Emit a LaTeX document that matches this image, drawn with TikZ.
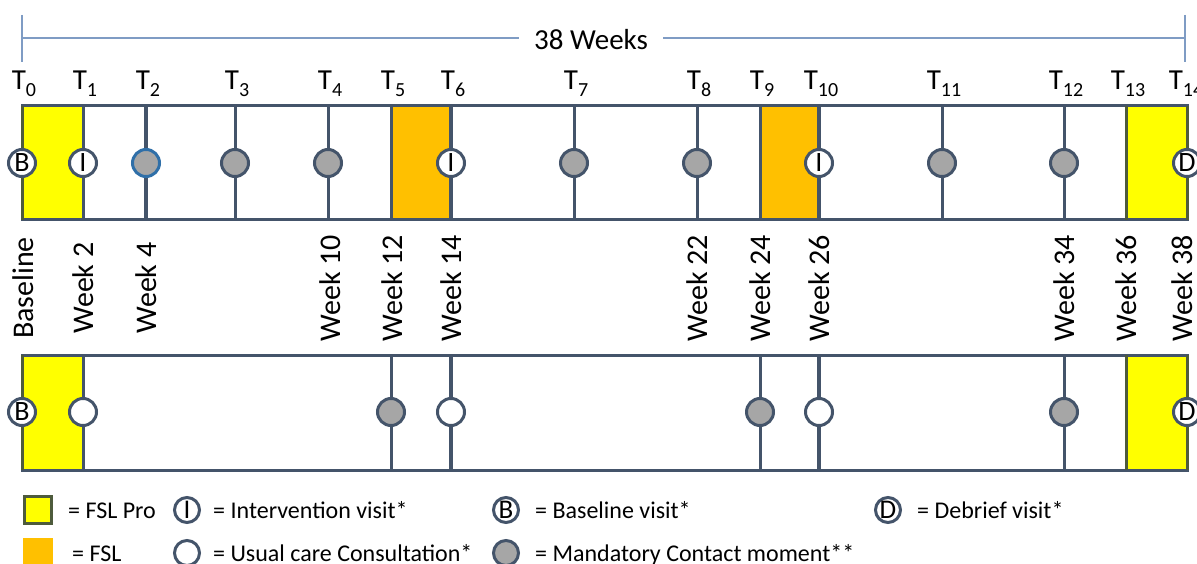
\documentclass[tikz,border=0pt]{standalone}
\usepackage{fontspec}
\setmainfont{Carlito}
\definecolor{linec}{HTML}{44546A}
\definecolor{spanc}{HTML}{7F9CC4}
\definecolor{fslpro}{HTML}{FFFF00}
\definecolor{fsl}{HTML}{FFC000}
\definecolor{grayfill}{HTML}{A6A6A6}
\definecolor{olivec}{HTML}{4E5B3C}
\definecolor{bluec}{HTML}{2F6FA8}
\newcommand\tlab[1]{T\raisebox{-7pt}{\fontsize{20}{20}\selectfont #1}}
\begin{document}
\begin{tikzpicture}[x=1pt,y=-1pt,
  visit/.style={circle, draw=linec, line width=3pt, minimum size=27pt, inner sep=0pt, font=\fontsize{28}{28}\selectfont},
  wvisit/.style={visit, fill=white},
  gvisit/.style={visit, fill=grayfill},
  lvisit/.style={visit, minimum size=25pt, fill=white, font=\fontsize{27}{27}\selectfont},
  vline/.style={draw=linec, line width=3pt},
  thickvline/.style={draw=linec, line width=4pt},
  boxline/.style={draw=linec, line width=3pt},
  pro/.style={fill=fslpro, draw=olivec, line width=3pt},
  fslbox/.style={fill=fsl, draw=linec, line width=3pt},
  tlabel/.style={anchor=base, font=\fontsize{29}{29}\selectfont, inner sep=0pt},
  wklabel/.style={rotate=90, font=\fontsize{30}{30}\selectfont, inner sep=0pt},
  legtext/.style={anchor=base west, font=\fontsize{24}{24}\selectfont, inner sep=0pt},
  spanline/.style={draw=spanc, line width=2pt},
]
\useasboundingbox (0,0) rectangle (1197,564);
\fill[white] (0,0) rectangle (1197,564);

\foreach \i/\x/\lx in {0/22/24,1/83/85,2/146/148,3/235/237,4/328/330,5/391/393,6/451/453,7/574/576,8/697/699,9/760/762,10/819/821,11/942/944,12/1064/1066,13/1126/1128,14/1187/1186}{
  \coordinate (ta\i) at (\x,106);
  \coordinate (tb\i) at (\x,220);
  \coordinate (tm\i) at (\x,163);
  \coordinate (ba\i) at (\x,355);
  \coordinate (bb\i) at (\x,470);
  \coordinate (bm\i) at (\x,412);
  \node[tlabel] (tl\i) at (\lx,90) {\tlab{\i}};
}

% span
\coordinate (spL) at (22,38);
\coordinate (spR) at (1185,38);
\coordinate (spLt) at (22,15);
\coordinate (spLb) at (22,62);
\coordinate (spRt) at (1185,15);
\coordinate (spRb) at (1185,62);
\draw[spanline] (spL) -- (spR);
\draw[spanline] (spLt) -- (spLb);
\draw[spanline] (spRt) -- (spRb);
\node[fill=white, inner xsep=15pt, inner ysep=2pt, font=\fontsize{29}{29}\selectfont] (weeks) at (591,40) {38 Weeks};

% top box
\draw[pro] (ta0) rectangle (tb1);
\draw[fslbox] (ta5) rectangle (tb6);
\draw[fslbox] (ta9) rectangle (tb10);
\draw[pro] (ta13) rectangle (tb14);
\draw[boxline] (ta0) rectangle (tb14);
\draw[pro] (ta0) -- (tb0);
\draw[pro] (ta14) -- (tb14);
\foreach \i in {1,3,4,5,7,8,9,11,12}{\draw[vline] (ta\i) -- (tb\i);}
\foreach \i in {2,6,10}{\draw[thickvline] (ta\i) -- (tb\i);}
\draw[olivec, line width=3pt] (ta13) -- (tb13);

\node[wvisit] (tv0) at (tm0) {B};
\node[wvisit] (tv1) at (tm1) {I};
\node[gvisit, draw=bluec] (tv2) at (tm2) {};
\node[gvisit] (tv3) at (tm3) {};
\node[gvisit] (tv4) at (tm4) {};
\node[wvisit] (tv6) at (tm6) {I};
\node[gvisit] (tv7) at (tm7) {};
\node[gvisit] (tv8) at (tm8) {};
\node[wvisit] (tv10) at (tm10) {I};
\node[gvisit] (tv11) at (tm11) {};
\node[gvisit] (tv12) at (tm12) {};
\node[wvisit] (tv14) at (tm14) {D};

% week labels
\node[wklabel] (w0) at (23,288) {Baseline};
\node[wklabel] (w1) at (83,288) {Week 2};
\node[wklabel] (w2) at (146,288) {Week 4};
\node[wklabel] (w4) at (330,288) {Week 10};
\node[wklabel] (w5) at (392,288) {Week 12};
\node[wklabel] (w6) at (451,288) {Week 14};
\node[wklabel] (w8) at (697,288) {Week 22};
\node[wklabel] (w9) at (760,288) {Week 24};
\node[wklabel] (w10) at (819,288) {Week 26};
\node[wklabel] (w12) at (1064,288) {Week 34};
\node[wklabel] (w13) at (1126,288) {Week 36};
\node[wklabel] (w14) at (1182,288) {Week 38};

% bottom box
\draw[pro] (ba0) rectangle (bb1);
\draw[pro] (ba13) rectangle (bb14);
\draw[boxline] (ba0) rectangle (bb14);
\draw[pro] (ba0) -- (bb0);
\draw[pro] (ba14) -- (bb14);
\foreach \i in {1,5,9,12}{\draw[vline] (ba\i) -- (bb\i);}
\foreach \i in {6,10}{\draw[thickvline] (ba\i) -- (bb\i);}
\draw[olivec, line width=3pt] (ba13) -- (bb13);

\node[wvisit] (bv0) at (bm0) {B};
\node[wvisit] (bv1) at (bm1) {};
\node[gvisit] (bv5) at (bm5) {};
\node[wvisit] (bv6) at (bm6) {};
\node[gvisit] (bv9) at (bm9) {};
\node[wvisit] (bv10) at (bm10) {};
\node[gvisit] (bv12) at (bm12) {};
\node[wvisit] (bv14) at (bm14) {D};

% legend
\node[pro, minimum width=27pt, minimum height=27pt, inner sep=0pt] (lgpro) at (38,510) {};
\node[legtext] (lgprot) at (68,518) {= FSL Pro};
\node[lvisit] (lgi) at (187,510) {I};
\node[legtext] (lgit) at (213,518) {= Intervention visit*};
\node[lvisit] (lgb) at (506,510) {B};
\node[legtext] (lgbt) at (535,518) {= Baseline visit*};
\node[lvisit] (lgd) at (888,510) {D};
\node[legtext] (lgdt) at (917,518) {= Debrief visit*};

\node[fslbox, draw=none, minimum width=30pt, minimum height=30pt, inner sep=0pt] (lgfsl) at (38,553) {};
\node[legtext] (lgfslt) at (72,561) {= FSL};
\node[lvisit] (lgu) at (187,553) {};
\node[legtext] (lgut) at (213,561) {= Usual care Consultation*};
\node[lvisit, fill=grayfill] (lgg) at (506,553) {};
\node[legtext] (lggt) at (535,561) {= Mandatory Contact moment**};
\end{tikzpicture}
\end{document}
